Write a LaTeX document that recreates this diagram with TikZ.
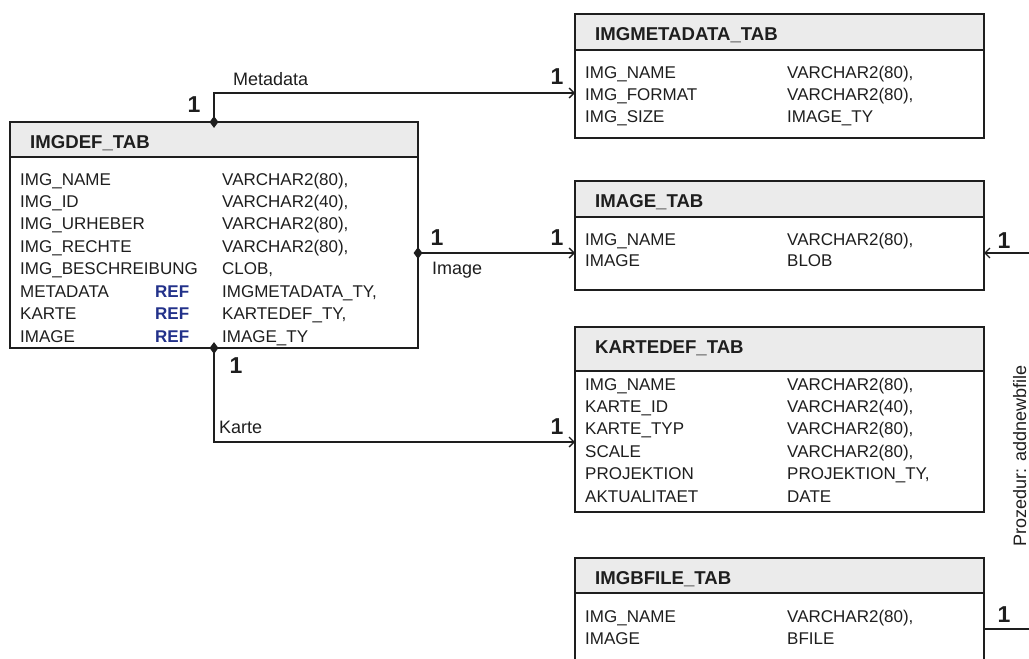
\documentclass[tikz,border=0pt]{standalone}
\usepackage{fontspec}
\setmainfont{Liberation Sans}
\usetikzlibrary{arrows.meta,shapes.geometric}

\definecolor{ink}{HTML}{1E1E1E}
\definecolor{headfill}{HTML}{EBEBEB}
\definecolor{refblue}{HTML}{22318A}

% table frame: name, x, y (top left), width, height, header height, title
\newcommand\dbtable[7]{%
  \node[tabarea, minimum width=#4pt, minimum height=#5pt] (#1) at (#2,#3) {};
  \fill[headfill] (#1.north west) rectangle ([yshift=-#6pt]#1.north east);
  \draw[frame] ([yshift=-#6pt]#1.north west) -- ([yshift=-#6pt]#1.north east);
  \draw[frame] (#1.north west) rectangle (#1.south east);
  \node[headtxt] (#1-title) at ([xshift=20pt,yshift=-26pt]#1.north west) {#7};
}

\begin{document}
\begin{tikzpicture}[x=1pt,y=-1pt,
  tabarea/.style={rectangle, anchor=north west, inner sep=0pt, outer sep=0pt},
  frame/.style={draw=ink, line width=1.8pt},
  headtxt/.style={anchor=base west, inner sep=0pt, text=ink,
    font=\fontsize{18.6}{22}\selectfont\bfseries},
  cell/.style={anchor=base west, inner sep=0pt, text=ink,
    font=\fontsize{17}{20}\selectfont},
  refcell/.style={cell, text=refblue, font=\fontsize{17}{20}\selectfont\bfseries},
  link/.style={draw=ink, line width=1.5pt},
  arr/.style={-{Straight Barb[length=5pt,width=10pt,line width=1.3pt]}},
  joint/.style={diamond, fill=ink, inner sep=0pt, minimum width=9pt, minimum height=12pt},
  one/.style={inner sep=0pt, text=ink, font=\fontsize{23}{26}\selectfont\bfseries},
  lbl/.style={inner sep=0pt, text=ink, font=\fontsize{18}{21}\selectfont}
]
\clip (0,0) rectangle (1029,659);

% ---------- IMGDEF_TAB ----------
\dbtable{imgdef}{10}{122}{408}{226}{35}{IMGDEF\_TAB}
\foreach [count=\i from 0] \n/\t in {
    {IMG\_NAME}/{VARCHAR2(80),},
    {IMG\_ID}/{VARCHAR2(40),},
    {IMG\_URHEBER}/{VARCHAR2(80),},
    {IMG\_RECHTE}/{VARCHAR2(80),},
    {IMG\_BESCHREIBUNG}/{CLOB,},
    {METADATA}/{IMGMETADATA\_TY,},
    {KARTE}/{KARTEDEF\_TY,},
    {IMAGE}/{IMAGE\_TY}} {
  \node[cell] (imgdef-n\i) at (20,185+22.43*\i) {\n};
  \node[cell] (imgdef-t\i) at (222,185+22.43*\i) {\t};
}
\foreach \i in {5,6,7} {
  \node[refcell] (imgdef-r\i) at (155,185+22.43*\i) {REF};
}

% ---------- IMGMETADATA_TAB ----------
\dbtable{meta}{575}{14}{409}{124}{36}{IMGMETADATA\_TAB}
\foreach [count=\i from 0] \n/\t in {
    {IMG\_NAME}/{VARCHAR2(80),},
    {IMG\_FORMAT}/{VARCHAR2(80),},
    {IMG\_SIZE}/{IMAGE\_TY}} {
  \node[cell] (meta-n\i) at (585,78+22*\i) {\n};
  \node[cell] (meta-t\i) at (787,78+22*\i) {\t};
}

% ---------- IMAGE_TAB ----------
\dbtable{image}{575}{181}{409}{109}{36}{IMAGE\_TAB}
\foreach [count=\i from 0] \n/\t in {
    {IMG\_NAME}/{VARCHAR2(80),},
    {IMAGE}/{BLOB}} {
  \node[cell] (image-n\i) at (585,245+21*\i) {\n};
  \node[cell] (image-t\i) at (787,245+21*\i) {\t};
}

% ---------- KARTEDEF_TAB ----------
\dbtable{karte}{575}{327}{409}{185}{44}{KARTEDEF\_TAB}
\foreach [count=\i from 0] \n/\t in {
    {IMG\_NAME}/{VARCHAR2(80),},
    {KARTE\_ID}/{VARCHAR2(40),},
    {KARTE\_TYP}/{VARCHAR2(80),},
    {SCALE}/{VARCHAR2(80),},
    {PROJEKTION}/{PROJEKTION\_TY,},
    {AKTUALITAET}/{DATE}} {
  \node[cell] (karte-n\i) at (585,390+22.4*\i) {\n};
  \node[cell] (karte-t\i) at (787,390+22.4*\i) {\t};
}

% ---------- IMGBFILE_TAB ----------
\dbtable{bfile}{575}{558}{409}{130}{35}{IMGBFILE\_TAB}
\foreach [count=\i from 0] \n/\t in {
    {IMG\_NAME}/{VARCHAR2(80),},
    {IMAGE}/{BFILE}} {
  \node[cell] (bfile-n\i) at (585,622+22*\i) {\n};
  \node[cell] (bfile-t\i) at (787,622+22*\i) {\t};
}

% ---------- references ----------
\coordinate (in-meta)  at (meta.west  |- 0,93);
\coordinate (in-image) at (image.west |- 0,253);
\coordinate (in-karte) at (karte.west |- 0,442);
\coordinate (ext-image) at (1029,253);
\coordinate (ext-bfile) at (1029,629);

\draw[link,arr] (214,122) |- (in-meta);
\draw[link,arr] (418,253) -- (in-image);
\draw[link,arr] (214,348) |- (in-karte);
\draw[link,arr] (ext-image) -- (image.east |- ext-image);
\draw[link] (bfile.east |- ext-bfile) -- (ext-bfile);

\node[joint] (j-meta)  at (214,122) {};
\node[joint] (j-image) at (418,253) {};
\node[joint] (j-karte) at (214,348) {};

% cardinalities
\node[one] (c-meta-src)  at (194,105) {1};
\node[one] (c-meta-dst)  at (557,77)  {1};
\node[one] (c-image-src) at (437,238) {1};
\node[one] (c-image-dst) at (557,238) {1};
\node[one] (c-karte-src) at (236,366) {1};
\node[one] (c-karte-dst) at (557,427) {1};
\node[one] (c-image-ext) at (1004,241) {1};
\node[one] (c-bfile-ext) at (1004,615) {1};

% relation names
\node[lbl, anchor=base west] (l-meta)  at (233,85)  {Metadata};
\node[lbl, anchor=base west] (l-image) at (432,274) {Image};
\node[lbl, anchor=base west] (l-karte) at (219,433) {Karte};
\node[lbl, rotate=90, anchor=base] (proc) at (1026,456) {Prozedur: addnewbfile};
\end{tikzpicture}
\end{document}
